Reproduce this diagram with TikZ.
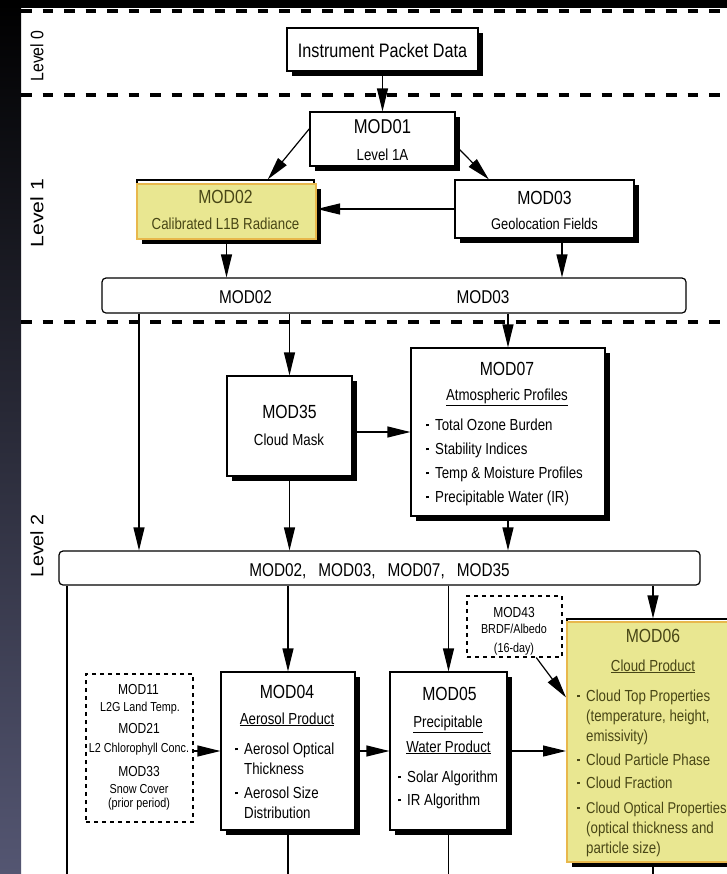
\documentclass[tikz,border=0pt]{standalone}
\usepackage{fontspec}
\setmainfont{Liberation Sans}[FakeStretch=0.83]
\newfontfamily\levelfont{Liberation Sans}
\usetikzlibrary{arrows.meta,shadows}

\definecolor{modyellow}{RGB}{233,231,145}
\definecolor{modorange}{RGB}{232,184,76}
\definecolor{modolive}{RGB}{72,70,22}
\definecolor{stripbottom}{RGB}{84,86,114}

\newcommand{\modsize}[1]{\fontsize{#1bp}{#1bp}\selectfont}

\tikzset{
    modbox/.style={draw, line width=1.2bp, fill=white, inner sep=0pt,
        drop shadow={shadow xshift=5bp, shadow yshift=-5bp, fill=black, opacity=1}},
    backbox/.style={draw, line width=1.2bp, fill=white, inner sep=0pt},
    yellowbox/.style={draw=modorange, line width=2bp, fill=modyellow, inner sep=0pt,
        drop shadow={shadow xshift=5bp, shadow yshift=-5bp, fill=black, opacity=1}},
    databar/.style={draw, line width=1.2bp, fill=white, rounded corners=4bp, inner sep=0pt},
    inputbox/.style={draw, line width=1.1bp, dash pattern=on 4bp off 4bp, fill=white, inner sep=0pt},
    leveldash/.style={line width=3.8bp, dash pattern=on 10.5bp off 11bp},
    titletext/.style={anchor=base, inner sep=0pt, font=\modsize{19}},
    subtext/.style={anchor=base, inner sep=0pt, font=\modsize{16}},
    smalltext/.style={anchor=base, inner sep=0pt, font=\modsize{13}},
    bulletdot/.style={anchor=base west, inner sep=0pt},
    bullettext/.style={anchor=base west, inner sep=0pt, font=\modsize{16}},
    levellabel/.style={rotate=90, inner sep=0pt, font=\levelfont\modsize{18}},
    flow/.style={line width=1.2bp, ->},
    feed/.style={line width=1.2bp},
}

% bullet lines inside a box: [options] prefix, x of the dot, list y/dot/text
\newcommand{\drawbullets}[4][]{
    \foreach \yy/\isdot/\txt [count=\i] in {#4} {
        \ifnum\isdot=1
            \node[bulletdot,#1] (#2d\i) at (#3+1,\yy-3.7) {\rule{2.6bp}{2.6bp}};
        \fi
        \node[bullettext,#1] (#2t\i) at (#3+10,\yy) {\txt};
    }
}

\begin{document}
\begin{tikzpicture}[x=1bp,y=-1bp,>={Triangle[length=23bp,width=11bp]}]

\useasboundingbox (0,0) rectangle (727,874);
\clip (0,0) rectangle (727,874);

% -------------------------
% Background
% -------------------------
\fill[white] (0,0) rectangle (727,874);
\shade[top color=black, bottom color=stripbottom] (0,0) rectangle (21,874);
\fill[black] (0,0) rectangle (727,8);

\draw[leveldash] (21,11.3) -- (727,11.3);
\draw[leveldash] (21,95) -- (727,95);
\draw[leveldash] (21,322) -- (727,322);

\node[levellabel] (lev0) at (37,56) {\scalebox{0.88}[1]{Level 0}};
\node[levellabel] (lev1) at (37,213) {\scalebox{1.18}[1]{Level 1}};
\node[levellabel] (lev2) at (37,546) {\scalebox{1.1}[1]{Level 2}};

% -------------------------
% Level 0 / Level 1
% -------------------------
\node[modbox, minimum width=191bp, minimum height=43bp] (pkt) at (382.5,49.5) {};
\node[titletext, font=\modsize{19.5}] (pktt) at (382.5,57) {Instrument Packet Data};

\node[modbox, minimum width=145bp, minimum height=54bp] (m01) at (382.5,139) {};
\node[titletext, font=\modsize{20}] (m01t) at (382.5,133) {MOD01};
\node[subtext] (m01s) at (382.5,160) {Level 1A};

\node[backbox, minimum width=177bp, minimum height=58bp] (m02) at (225.5,209) {};
\node[yellowbox, minimum width=179bp, minimum height=55bp] (m02y) at (226.5,211.5) {};
\node[titletext, text=modolive] (m02t) at (225.5,203.5) {MOD02};
\node[subtext, text=modolive] (m02s) at (225.5,229.5) {Calibrated L1B Radiance};

\node[modbox, minimum width=179bp, minimum height=58bp] (m03) at (544.5,209) {};
\node[titletext] (m03t) at (544.5,204.5) {MOD03};
\node[subtext, font=\modsize{15.5}] (m03s) at (544.5,229.5) {Geolocation Fields};

\node[databar, minimum width=584bp, minimum height=35bp] (bar1) at (394,295.5) {};
\node[titletext, font=\modsize{18.5}] (bar1a) at (245.5,303) {MOD02};
\node[titletext, font=\modsize{18.5}] (bar1b) at (483,303) {MOD03};

% -------------------------
% Level 2
% -------------------------
\node[modbox, minimum width=125bp, minimum height=100bp] (m35) at (289.5,426) {};
\node[titletext] (m35t) at (289.5,418) {MOD35};
\node[subtext] (m35s) at (289,445) {Cloud Mask};

\node[modbox, minimum width=194bp, minimum height=168bp] (m07) at (508,432) {};
\node[titletext] (m07t) at (507,375) {MOD07};
\node[subtext] (m07s) at (507,400) {\underline{Atmospheric Profiles}};
\drawbullets{m07}{425}{430/1/Total Ozone Burden, 454/1/Stability Indices,
    478/1/Temp \& Moisture Profiles, 502/1/Precipitable Water (IR)}

\node[databar, minimum width=641bp, minimum height=34bp] (bar2) at (379.5,568) {};
\node[titletext, font=\modsize{18.5}] (bar2t) at (379.5,576)
    {MOD02,\hspace{12bp}MOD03,\hspace{12bp}MOD07,\hspace{12bp}MOD35};

\node[inputbox, minimum width=95bp, minimum height=61bp] (m43) at (514.5,626.5) {};
\node[smalltext, font=\modsize{14.5}] (m43t) at (514,617) {MOD43};
\node[smalltext] (m43s) at (514,633) {BRDF/Albedo};
\node[smalltext] (m43p) at (514,652) {(16-day)};

\node[backbox, minimum width=172bp, minimum height=242bp] (m06) at (653,740) {};
\node[yellowbox, minimum width=172bp, minimum height=240.5bp] (m06y) at (653,741.75) {};
\node[titletext, text=modolive] (m06t) at (653,642) {MOD06};
\node[subtext, text=modolive] (m06s) at (653,671) {\underline{Cloud Product}};
\drawbullets[text=modolive]{m06}{576}{701/1/Cloud Top Properties,
    721/0/{(temperature, height,}, 741/0/emissivity), 765/1/Cloud Particle Phase,
    788/1/Cloud Fraction, 813/1/{\modsize{15.6}Cloud Optical Properties},
    833/0/(optical thickness and, 853/0/particle size)}

\node[modbox, minimum width=117bp, minimum height=158bp] (m05) at (448.5,751) {};
\node[titletext] (m05t) at (449.5,700) {MOD05};
\node[subtext] (m05s) at (448,727) {\underline{Precipitable}};
\node[subtext] (m05w) at (448.5,752) {\underline{Water Product}};
\drawbullets{m05}{397}{782/1/Solar Algorithm, 805/1/IR Algorithm}

\node[modbox, minimum width=134bp, minimum height=158bp] (m04) at (288,751) {};
\node[titletext] (m04t) at (287,698) {MOD04};
\node[subtext] (m04s) at (287,724) {\underline{Aerosol Product}};
\drawbullets{m04}{234}{754/1/Aerosol Optical, 774/0/Thickness,
    798/1/Aerosol Size, 818/0/Distribution}

\node[inputbox, minimum width=107bp, minimum height=148bp] (ext) at (139.5,748) {};
\node[smalltext, font=\modsize{14.5}] (ext1) at (138.5,694) {MOD11};
\node[smalltext] (ext2) at (140,711) {L2G Land Temp.};
\node[smalltext, font=\modsize{14.5}] (ext3) at (139,733) {MOD21};
\node[smalltext] (ext4) at (139,752) {L2 Chlorophyll Conc.};
\node[smalltext, font=\modsize{14.5}] (ext5) at (139,776) {MOD33};
\node[smalltext] (ext6) at (139,793) {Snow Cover};
\node[smalltext] (ext7) at (139,807) {(prior period)};

% -------------------------
% Connectors
% -------------------------
\coordinate (m03out) at ([xshift=17.5bp]m03.south);
\coordinate (b1tap) at (139,0 |- bar1.south);
\coordinate (b2tap) at (67,0 |- bar2.south);

\draw[flow] (pkt.south) -- (m01.north);
\draw[flow] (m01.172) -- (m02.35);
\draw[flow] (m01.-5) -- (m03.152);
\draw[flow] (m03.west) -- (m03.west -| m02y.east);
\draw[flow] (m02y.south) -- (m02y.south |- bar1.north);
\draw[flow] (m03out) -- (m03out |- bar1.north);

\draw[flow] (b1tap) -- (b1tap |- bar2.north);
\draw[flow] (m35.north |- bar1.south) -- (m35.north);
\draw[flow] (m07.north |- bar1.south) -- (m07.north);
\draw[flow] (m07.west -| m35.east) -- (m07.west);
\draw[flow] (m35.south) -- (m35.south |- bar2.north);
\draw[flow] (m07.south) -- (m07.south |- bar2.north);

\draw[feed] (b2tap) -- (b2tap |- 0,880);
\draw[flow] (m04.north |- bar2.south) -- (m04.north);
\draw[flow] (m05.north |- bar2.south) -- (m05.north);
\draw[flow] (m06.north |- bar2.south) -- (m06.north);
\draw[flow] (m43.-55) -- (m06y.153);
\draw[flow] (ext.east |- m04.west) -- (m04.west);
\draw[flow] (m04.east) -- (m05.west);
\draw[flow] (m05.east) -- (m05.east -| m06y.west);

\draw[feed] (m04.south) -- (m04.south |- 0,880);
\draw[feed] (m05.south) -- (m05.south |- 0,880);
\draw[feed] (m06y.south) -- (m06y.south |- 0,880);

\end{tikzpicture}
\end{document}
